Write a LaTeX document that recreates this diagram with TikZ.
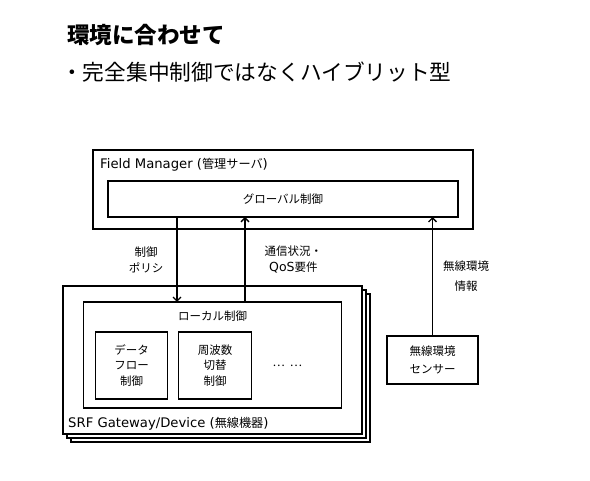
\documentclass[tikz,border=0pt]{standalone}
\usepackage{fontspec}
\setmainfont{DejaVu Sans}
\newfontfamily\jp{Noto Sans CJK JP}[Scale=0.92]
\usetikzlibrary{arrows.meta, positioning}

\tikzset{
  box/.style={draw, line width=1.3pt, inner sep=0pt, outer sep=0pt, fill=white},
  lbl/.style={font=\fontsize{12.5}{16}\selectfont, align=center, inner sep=0pt},
  latin/.style={font=\fontsize{13.2}{16}\selectfont, inner sep=0pt},
}

\begin{document}
\begin{tikzpicture}[x=1pt, y=-1pt, >={Straight Barb[length=4pt,width=8pt]}]
    \useasboundingbox (0,0) rectangle (590,481);

    \node[anchor=west, inner sep=0pt, font=\jp\bfseries\fontsize{24.5}{29}\selectfont] (title) at (67,35) {環境に合わせて};
    \node[anchor=west, inner sep=0pt, font=\jp\fontsize{23.6}{29}\selectfont] (sub) at (61,72) {・完全集中制御ではなくハイブリット型};

    % server side
    \node[box, minimum width=380pt, minimum height=79pt] (fm) at (283,189.5) {};
    \node[latin, anchor=west] (fmname) at (100,165) {Field Manager ({\jp 管理サーバ})};
    \node[box, minimum width=350pt, minimum height=36pt, below=31pt of fm.north] (gc) {};
    \node[lbl] at (gc) (gcname) {\jp グローバル制御};

    % device stack
    \node[box, minimum width=299pt, minimum height=148pt] (dev3) at (220.5,368) {};
    \node[box, minimum width=299pt, minimum height=148pt] (dev2) at (216.5,364) {};
    \node[box, minimum width=299pt, minimum height=148pt] (dev) at (212.5,360) {};
    \node[latin, anchor=west] (devname) at ([xshift=5pt, yshift=10pt]dev.south west) {SRF Gateway/Device ({\jp 無線機器})};

    \node[box, minimum width=258pt, minimum height=106pt, below=16pt of dev.north] (lc) {};
    \node[lbl, below=9pt of lc.north] (lcname) {\jp ローカル制御};
    \node[box, lbl, minimum width=72pt, minimum height=67pt, below right=30pt and 12pt of lc.north west,
          font=\jp\fontsize{12.5}{15.5}\selectfont] (df) {データ\\フロー\\制御};
    \node[box, lbl, minimum width=73pt, minimum height=67pt, right=11pt of df,
          font=\jp\fontsize{12.5}{15.5}\selectfont] (fq) {周波数\\切替\\制御};
    \node[lbl, right=21pt of fq] (more) {\jp …\hspace{5pt}…};

    % sensor
    \node[box, lbl, minimum width=91pt, minimum height=48pt, font=\jp\fontsize{12.5}{17.5}\selectfont] (sen) at (432.5,360) {無線環境\\センサー};

    \draw[->, line width=1.3pt] ([xshift=-106pt]gc.south) -- node[lbl, midway, left=13pt] {\jp 制御\\\jp ポリシ} ([xshift=-106pt]gc.south |- lc.north);
    \draw[->, line width=1.3pt] ([xshift=-38pt]gc.south |- lc.north) -- node[lbl, midway, right=19pt] {\jp 通信状況・\\QoS{\jp 要件}} ([xshift=-38pt]gc.south);
    \draw[->, line width=1.3pt] (sen.north) -- node[lbl, midway, right=10pt, font=\jp\fontsize{12.5}{20}\selectfont] {無線環境\\情報} (sen.north |- gc.south);

\end{tikzpicture}
\end{document}
